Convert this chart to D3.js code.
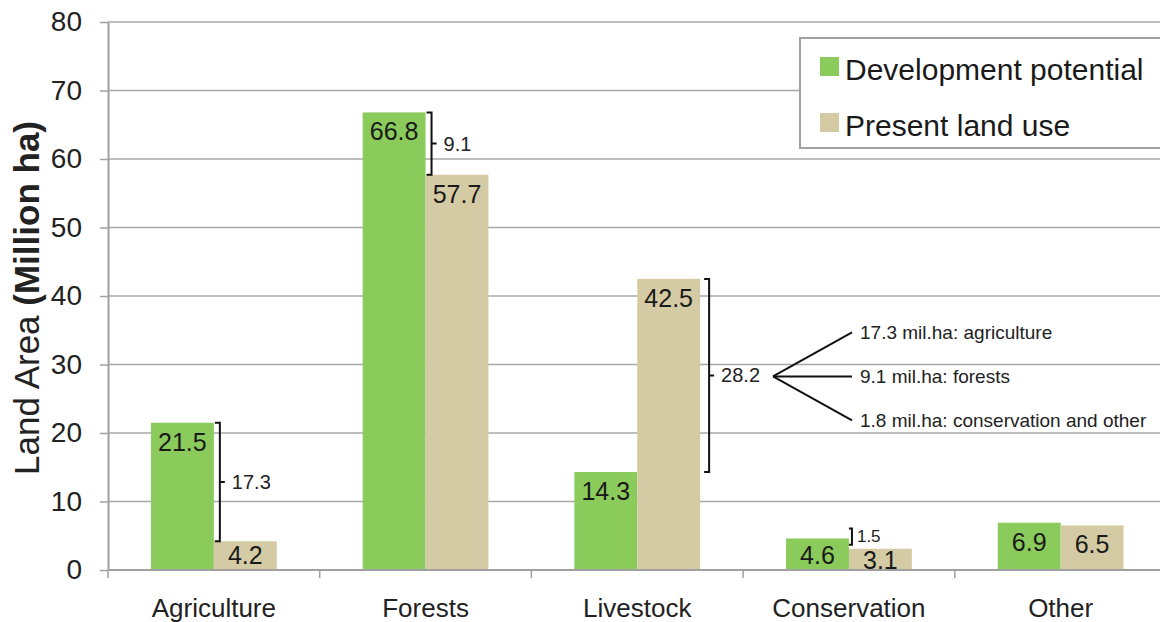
<!DOCTYPE html>
<html>
<head>
<meta charset="utf-8">
<script src="https://cdnjs.cloudflare.com/ajax/libs/d3/7.8.5/d3.min.js"></script>
<style>
  body { margin: 0; background: #fff; }
  svg { display: block; font-family: "Liberation Sans", Arial, sans-serif; }
</style>
</head>
<body>
<div id="chart"></div>
<script>
const w = 1160;
const h = 622;

// data
const categories = ['Agriculture', 'Forests', 'Livestock', 'Conservation', 'Other'];
const seriesNames = ['Development potential', 'Present land use'];
const devPotential = [21.5, 66.8, 14.3, 4.6, 6.9];
const presentUse = [4.2, 57.7, 42.5, 3.1, 6.5];
const yTicks = [0, 10, 20, 30, 40, 50, 60, 70, 80];
const colors = ['#8acb5b', '#d4caa3'];

// differences marked with brackets: [category index, from value, to value, label, bracket after series]
const brackets = [
  [0, 21.5, 4.2, '17.3', 0],
  [1, 66.8, 57.7, '9.1', 0],
  [2, 42.5, 14.3, '28.2', 1],
  [3, 4.6, 3.1, '1.5', 0]
];
const fanLabels = ['17.3 mil.ha: agriculture', '9.1 mil.ha: forests', '1.8 mil.ha: conservation and other'];

const plotLeft = 108, plotTop = 22, plotBottom = 570;
const step = 211.7;

const svg = d3.select('#chart').append('svg')
  .attr('width', w)
  .attr('height', h);

const x0 = d3.scaleBand()
  .domain(categories)
  .range([plotLeft, plotLeft + step * categories.length])
  .padding(0);

const x1 = d3.scaleBand()
  .domain(seriesNames)
  .range([x0.bandwidth() * 0.203, x0.bandwidth() * 0.797]);

const y = d3.scaleLinear()
  .domain([0, 80])
  .range([plotBottom, plotTop]);

// gridlines
svg.append('g').selectAll('line')
  .data(yTicks.filter(d => d > 0))
  .enter().append('line')
  .attr('x1', plotLeft).attr('x2', w)
  .attr('y1', d => y(d)).attr('y2', d => y(d))
  .attr('stroke', '#a8a8a8')
  .attr('stroke-width', 1.5);

// y axis
const yAxis = svg.append('g')
  .attr('transform', 'translate(' + plotLeft + ',0)')
  .call(d3.axisLeft(y).tickValues(yTicks).tickSize(8).tickPadding(18).tickSizeOuter(0));
yAxis.select('.domain').attr('stroke', '#a0a0a0').attr('stroke-width', 2);
yAxis.selectAll('.tick line').attr('stroke', '#a0a0a0').attr('stroke-width', 1.5);
yAxis.selectAll('.tick text')
  .attr('font-size', 28)
  .attr('fill', '#222')
  .style('font-family', '"Liberation Sans", Arial, sans-serif');

// y title
const yTitle = svg.append('text')
  .attr('transform', 'translate(39,298) rotate(-90)')
  .attr('text-anchor', 'middle')
  .attr('font-size', 35)
  .attr('fill', '#222');
yTitle.append('tspan').text('Land Area ');
yTitle.append('tspan').attr('font-weight', 'bold').text('(Million ha)');

// bars
const rows = categories.map((c, i) => ({cat: c, vals: [devPotential[i], presentUse[i]]}));

const groups = svg.append('g').selectAll('g')
  .data(rows)
  .enter().append('g')
  .attr('transform', d => 'translate(' + x0(d.cat) + ',0)');

groups.selectAll('rect')
  .data(d => d.vals.map((v, j) => ({s: seriesNames[j], v: v, j: j})))
  .enter().append('rect')
  .attr('x', d => x1(d.s))
  .attr('y', d => y(d.v))
  .attr('width', x1.bandwidth())
  .attr('height', d => plotBottom - y(d.v))
  .attr('fill', d => colors[d.j]);

groups.selectAll('text')
  .data(d => d.vals.map((v, j) => ({s: seriesNames[j], v: v})))
  .enter().append('text')
  .attr('x', d => x1(d.s) + x1.bandwidth() / 2)
  .attr('y', d => Math.min(y(d.v) + 28, d.v < 4 ? 569 : 564))
  .attr('text-anchor', 'middle')
  .attr('font-size', 25)
  .attr('fill', '#1a1a1a')
  .text(d => d.v.toFixed(1));

// x axis
svg.append('line')
  .attr('x1', plotLeft).attr('x2', w)
  .attr('y1', plotBottom).attr('y2', plotBottom)
  .attr('stroke', '#a0a0a0').attr('stroke-width', 2);

svg.append('g').selectAll('line')
  .data(categories.concat(['end']))
  .enter().append('line')
  .attr('x1', (d, i) => plotLeft + i * x0.step())
  .attr('x2', (d, i) => plotLeft + i * x0.step())
  .attr('y1', plotBottom).attr('y2', plotBottom + 8)
  .attr('stroke', '#a0a0a0').attr('stroke-width', 1.5);

svg.append('g').selectAll('text')
  .data(categories)
  .enter().append('text')
  .attr('x', d => x0(d) + x0.bandwidth() / 2)
  .attr('y', 617)
  .attr('text-anchor', 'middle')
  .attr('font-size', 26)
  .attr('fill', '#222')
  .text(d => d);

// brackets
const br = svg.append('g');
brackets.forEach(b => {
  const cat = categories[b[0]];
  const small = b[3] === '1.5';
  const bx = x0(cat) + x1(seriesNames[b[4]]) + x1.bandwidth() + (b[4] === 0 ? (small ? 3 : 6) : 9);
  const yA = y(b[1]) - (small ? 10 : 0), yB = y(b[2]) - (small ? 4 : 0);
  const mid = (yA + yB) / 2;
  br.append('path')
    .attr('d', 'M' + (bx - (small ? 3 : 5)) + ',' + yA + 'H' + bx + 'V' + yB + 'H' + (bx - (small ? 3 : 5)) +
      (small ? '' : 'M' + bx + ',' + mid + 'H' + (bx + 5)))
    .attr('fill', 'none')
    .attr('stroke', '#111')
    .attr('stroke-width', 2);
  br.append('text')
    .attr('x', bx + (small ? 5 : 12))
    .attr('y', small ? yA + 8 : mid)
    .attr('dy', '0.35em')
    .attr('font-size', small ? 17 : 20)
    .attr('fill', '#222')
    .text(b[3]);
});

// fan from the livestock bracket
const fanMid = (y(42.5) + y(14.3)) / 2 + 1;
const fanX0 = 773, fanX1 = 852;
fanLabels.forEach((t, i) => {
  const fy = fanMid + (i - 1) * 44;
  svg.append('line')
    .attr('x1', fanX0).attr('y1', fanMid)
    .attr('x2', fanX1).attr('y2', fy)
    .attr('stroke', '#111').attr('stroke-width', 2);
  svg.append('text')
    .attr('x', fanX1 + 8)
    .attr('y', fy)
    .attr('dy', '0.35em')
    .attr('font-size', 19)
    .attr('fill', '#222')
    .text(t);
});

// legend
const legend = svg.append('g');
legend.append('rect')
  .attr('x', 800).attr('y', 38)
  .attr('width', 420).attr('height', 110)
  .attr('fill', '#fff')
  .attr('stroke', '#a0a0a0').attr('stroke-width', 2);

seriesNames.forEach((s, i) => {
  legend.append('rect')
    .attr('x', 820).attr('y', 57 + i * 56)
    .attr('width', 19).attr('height', 19)
    .attr('fill', colors[i]);
  legend.append('text')
    .attr('x', 845).attr('y', 80 + i * 56)
    .attr('font-size', 30)
    .attr('fill', '#1a1a1a')
    .text(s);
});
</script>
</body>
</html>
